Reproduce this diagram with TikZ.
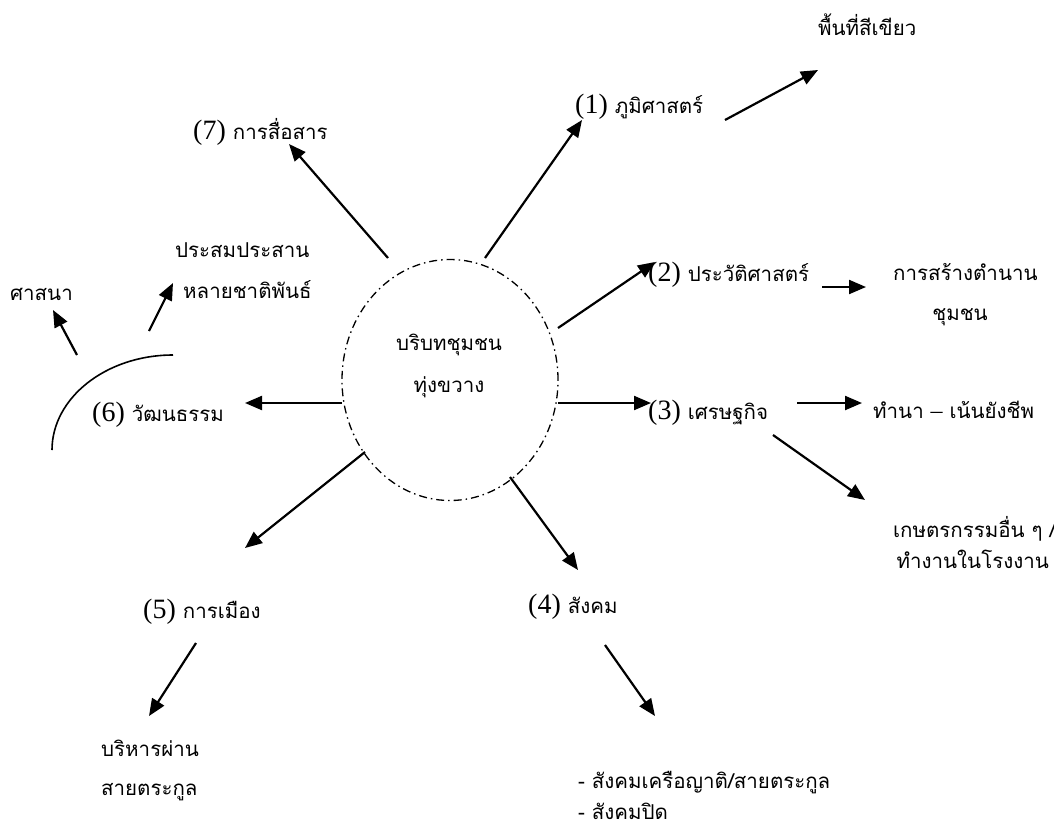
\documentclass[tikz,border=0pt]{standalone}
\usepackage{fontspec}
\setmainfont{Liberation Serif}
\newfontfamily\thf[Script=Thai]{Loma}
\usetikzlibrary{arrows.meta,shapes.geometric}
\newcommand\thtext[1]{{\thf\fontsize{20.5}{24}\selectfont #1}}
\begin{document}
\begin{tikzpicture}[x=1pt,y=-1pt,
  lbl/.style={anchor=base west,inner sep=0pt,font=\fontsize{28}{32}\selectfont},
  th/.style={anchor=base west,inner sep=0pt,font=\fontsize{20.5}{24}\thf},
  thc/.style={anchor=base,inner sep=0pt,font=\fontsize{20.5}{24}\thf},
  arr/.style={line width=2.2pt,-{Triangle[length=17pt,width=14pt]}},
  hub/.style={ellipse,draw,line width=1.3pt,minimum width=216pt,minimum height=241pt,
    dash pattern=on 8pt off 4pt on 1.5pt off 4pt}]
\useasboundingbox (0,0) rectangle (1054,828);
\clip (0,0) rectangle (1054,828);

% central hub
\node[hub] (c) at (450,380) {};
\node[thc] (c1) at (449,350) {บริบทชุมชน};
\node[thc] (c2) at (449,392) {ทุ่งขวาง};

% first-level topics
\node[lbl] (t1) at (575,113) {(1) \thtext{ภูมิศาสตร์}};
\node[lbl] (t2) at (648,281) {(2) \thtext{ประวัติศาสตร์}};
\node[lbl] (t3) at (648,419) {(3) \thtext{เศรษฐกิจ}};
\node[lbl] (t4) at (528,613) {(4) \thtext{สังคม}};
\node[lbl] (t5) at (143,618) {(5) \thtext{การเมือง}};
\node[lbl] (t6) at (92,421) {(6) \thtext{วัฒนธรรม}};
\node[lbl] (t7) at (193,139) {(7) \thtext{การสื่อสาร}};

% second-level details
\node[th] (d1) at (818,35) {พื้นที่สีเขียว};
\node[th] (d2a) at (893,280) {การสร้างตำนาน};
\node[thc] (d2b) at (960,320) {ชุมชน};
\node[th] (d3a) at (873,418) {ทำนา {\rmfamily\fontsize{24}{26}\selectfont –} เน้นยังชีพ};
\node[th] (d3b) at (893,537) {เกษตรกรรมอื่น ๆ /};
\node[th,anchor=base east] (d3c) at (1049,568) {ทำงานในโรงงาน};
\node[th] (d4a) at (578,788) {- สังคมเครือญาติ/สายตระกูล};
\node[th] (d4b) at (578,819) {- สังคมปิด};
\node[th] (d5a) at (101,756) {บริหารผ่าน};
\node[th] (d5b) at (101,795) {สายตระกูล};
\node[th] (d6a) at (10,300) {ศาสนา};
\node[th] (d6b) at (175,257) {ประสมประสาน};
\node[th] (d6c) at (183,298) {หลายชาติพันธ์};

% connector ends
\coordinate (a1s) at (485,258);  \coordinate (a1e) at (582,120);
\coordinate (b1s) at (725,120);  \coordinate (b1e) at (818,70);
\coordinate (a2s) at (558,328);  \coordinate (a2e) at (655,262);
\coordinate (b2s) at (822,287);  \coordinate (b2e) at (866,287);
\coordinate (a3s) at (558,403);  \coordinate (a3e) at (651,403);
\coordinate (b3s) at (797,403);  \coordinate (b3e) at (862,403);
\coordinate (b3t) at (773,435);  \coordinate (b3u) at (865,500);
\coordinate (a4s) at (510,477);  \coordinate (a4e) at (578,570);
\coordinate (b4s) at (605,645);  \coordinate (b4e) at (655,716);
\coordinate (a5s) at (365,452);  \coordinate (a5e) at (245,548);
\coordinate (b5s) at (196,643);  \coordinate (b5e) at (149,716);
\coordinate (a6s) at (342,403);  \coordinate (a6e) at (245,403);
\coordinate (a7s) at (388,258);  \coordinate (a7e) at (289,144);
\coordinate (g1) at (173,355);   \coordinate (g2) at (52,450);
\coordinate (b6s) at (77,355);   \coordinate (b6e) at (53,310);
\coordinate (b6t) at (149,331);  \coordinate (b6u) at (173,283);

% arrows
\draw[arr] (a1s) -- (a1e);
\draw[arr] (b1s) -- (b1e);
\draw[arr] (a2s) -- (a2e);
\draw[arr] (b2s) -- (b2e);
\draw[arr] (a3s) -- (a3e);
\draw[arr] (b3s) -- (b3e);
\draw[arr] (b3t) -- (b3u);
\draw[arr] (a4s) -- (a4e);
\draw[arr] (b4s) -- (b4e);
\draw[arr] (a5s) -- (a5e);
\draw[arr] (b5s) -- (b5e);
\draw[arr] (a6s) -- (a6e);
\draw[arr] (a7s) -- (a7e);

% culture arc and its branches
\draw[line width=1.6pt] (g1) .. controls (106,355) and (52,398) .. (g2);
\draw[arr] (b6s) -- (b6e);
\draw[arr] (b6t) -- (b6u);
\end{tikzpicture}
\end{document}
